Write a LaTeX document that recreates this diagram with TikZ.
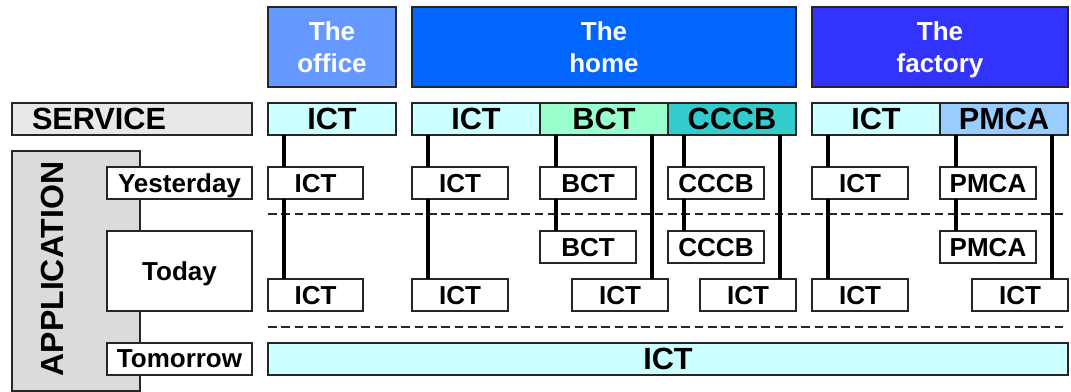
\documentclass[tikz,border=0pt]{standalone}
\usepackage{fontspec}
\setmainfont{Liberation Sans}
\usetikzlibrary{calc,positioning}
\newcommand{\Unit}{0.75pt}
\definecolor{officeblue}{HTML}{6699FF}
\definecolor{homeblue}{HTML}{0066FF}
\definecolor{factoryblue}{HTML}{3333FF}
\definecolor{ictfill}{HTML}{CCFFFF}
\definecolor{bctfill}{HTML}{99FFCC}
\definecolor{cccbfill}{HTML}{33CCCC}
\definecolor{pmcafill}{HTML}{99CCFF}
\tikzset{Square/.style={
    inner sep=0pt,
    outer sep=0pt,
    text depth=0pt,
    draw=black!85,
    line width=1.3pt,
    align=center,
    font=\bfseries\fontsize{19.5}{24}\selectfont,
    }
}

\begin{document}
\begin{tikzpicture}[x=\Unit, y=-\Unit,
    Head/.style={Square, minimum height=80*\Unit, text=white},
    Serv/.style={Square, minimum height=32*\Unit, fill=ictfill,
        font=\bfseries\fontsize{23}{26}\selectfont},
    App/.style={Square, minimum height=32*\Unit, minimum width=96*\Unit, fill=white},
    Wide/.style={minimum width=#1*\Unit},
    Link/.style={line width=2.6pt, black},
    Sep/.style={line width=1.1pt, black!85, dash pattern=on 6.5pt off 3.5pt},
]
\useasboundingbox (0,0) rectangle (1071,392);
% places
\node [Head, Wide=128, fill=officeblue] (hOff) at (332,47) {The\\office};
\node [Head, Wide=384, fill=homeblue] (hHome) at (604,47) {The\\home};
\node [Head, Wide=256, fill=factoryblue] (hFac) at (940,47) {The\\factory};
% service row
\node [Serv, fill=black!9, text width=150pt, inner xsep=15pt, align=left] (serv) at (132,119) {SERVICE};
\node [Serv, Wide=128] (sOff) at (332,119) {ICT};
\node [Serv, Wide=128] (sHome) at (476,119) {ICT};
\node [Serv, Wide=128, fill=bctfill] (sBCT) at (604,119) {BCT};
\node [Serv, Wide=128, fill=cccbfill] (sCCCB) at (732,119) {CCCB};
\node [Serv, Wide=128] (sFac) at (876,119) {ICT};
\node [Serv, Wide=128, fill=pmcafill] (sPMCA) at (1004,119) {PMCA};
% application column
\node [Square, fill=black!14, minimum width=128*\Unit, minimum height=240*\Unit] (app) at (76,271) {};
\node [rotate=90, inner sep=0pt, font=\bfseries\fontsize{24}{26}\selectfont] (appText) at (52,269) {APPLICATION};
\node [App, Wide=145] (yest) at (179.5,183) {Yesterday};
\node [App, Wide=145, minimum height=80*\Unit] (today) at (179.5,271) {Today};
\node [App, Wide=145] (tomo) at (179.5,359) {Tomorrow};
% yesterday
\node [App, Wide=95] (yOff) at (315.5,183) {ICT};
\node [App] (yHome) at (460,183) {ICT};
\node [App] (yBCT) at (588,183) {BCT};
\node [App] (yCCCB) at (716,183) {CCCB};
\node [App] (yFac) at (860,183) {ICT};
\node [App] (yPMCA) at (988,183) {PMCA};
% today
\node [App] (mBCT) at (588,247) {BCT};
\node [App] (mCCCB) at (716,247) {CCCB};
\node [App] (mPMCA) at (988,247) {PMCA};
\node [App, Wide=95] (tOff) at (315.5,295) {ICT};
\node [App] (tHome) at (460,295) {ICT};
\node [App] (tBCT) at (620,295) {ICT};
\node [App] (tCCCB) at (748,295) {ICT};
\node [App] (tFac) at (860,295) {ICT};
\node [App] (tPMCA) at (1020,295) {ICT};
% tomorrow
\node [Serv, Wide=800] (tomoICT) at (668,359) {ICT};
% separators
\coordinate (d1a) at (268,214); \coordinate (d1b) at (1068,214);
\coordinate (d2a) at (268,327); \coordinate (d2b) at (1068,327);
\draw [Sep] (d1a) -- (d1b);
\draw [Sep] (d2a) -- (d2b);
% links
\foreach \s/\y/\t in {sOff/yOff/tOff, sHome/yHome/tHome, sFac/yFac/tFac,
                      sBCT/yBCT/mBCT, sCCCB/yCCCB/mCCCB, sPMCA/yPMCA/mPMCA}{
  \draw [Link] ($(\s.south west)+(16,0)$) -- ($(\y.north west)+(16,0)$);
  \draw [Link] ($(\y.south west)+(16,0)$) -- ($(\t.north west)+(16,0)$);
}
\foreach \s/\t in {sBCT/tBCT, sCCCB/tCCCB, sPMCA/tPMCA}
  \draw [Link] ($(\s.south east)+(-16,0)$) -- ($(\t.north east)+(-16,0)$);
\end{tikzpicture}
\end{document}
